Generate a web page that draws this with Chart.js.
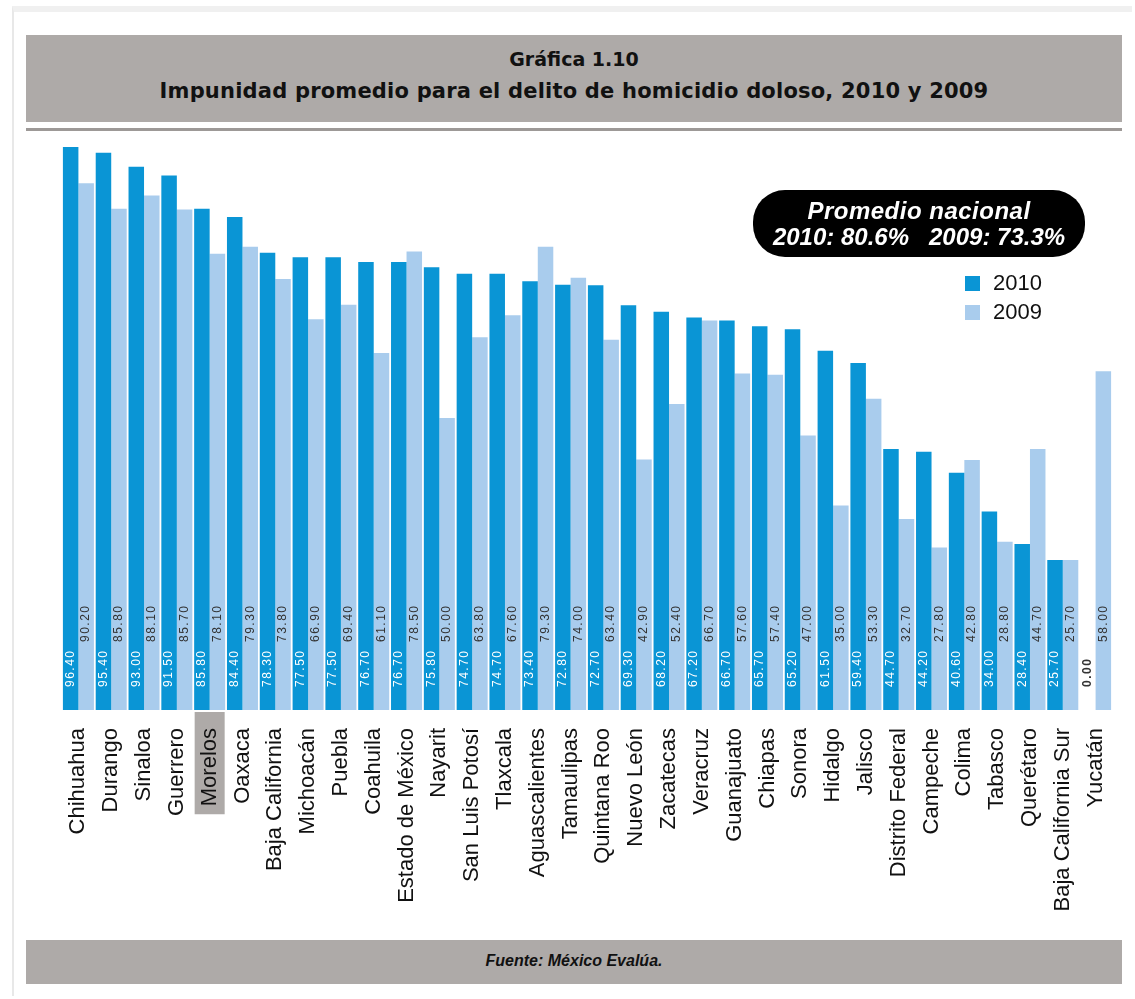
<!DOCTYPE html>
<html>
<head>
<meta charset="utf-8">
<script src="https://cdn.jsdelivr.net/npm/chart.js@4"></script>
<style>
  body { margin: 0; background: #fff; font-family: "Liberation Sans", Arial, sans-serif; }
  #page { position: relative; width: 1135px; height: 999px; overflow: hidden; }
  #frame { position: absolute; left: 12px; top: 6px; width: 1118px; height: 984px; border-left: 2px solid #e8e8e8; border-top: 6px solid #f0f0f0; }
  .band { position: absolute; left: 26px; width: 1096px; background: #aeaaa8; text-align: center; color: #111; }
  #titleBand { top: 35px; height: 87px; font-family: "DejaVu Sans", sans-serif; }
  #titleBand .l1 { position: absolute; left: 0; right: 0; top: 13px; font-size: 19px; font-weight: bold; }
  #titleBand .l2 { position: absolute; left: 0; right: 0; top: 44px; font-size: 21px; font-weight: bold; letter-spacing: 0.2px; }
  #rule { position: absolute; left: 26px; width: 1096px; top: 128px; height: 3px; background: #9d9997; }
  #footer { top: 940px; height: 44px; }
  #footer span { position: absolute; left: 0; right: 0; top: 12px; font-size: 16px; font-weight: bold; font-style: italic; }
  #chart { position: absolute; left: 0; top: 0; }
  #pill { position: absolute; left: 753px; top: 190px; width: 332px; height: 67px; background: #000; border-radius: 32px; color: #fff; font-weight: bold; font-style: italic; text-align: center; font-size: 24px; line-height: 26px; }
  #pill .p1 { position: absolute; left: 0; right: 0; top: 8px; letter-spacing: 0.5px; }
  #pill .p2 { position: absolute; left: 0; right: 0; top: 34px; white-space: pre; }
</style>
</head>
<body>
<div id="page">
  <div id="frame"></div>
  <div class="band" id="titleBand">
    <div class="l1">Gráfica 1.10</div>
    <div class="l2">Impunidad promedio para el delito de homicidio doloso, 2010 y 2009</div>
  </div>
  <div id="rule"></div>
  <canvas id="chart" width="1135" height="999"></canvas>
  <div id="pill">
    <div class="p1">Promedio nacional</div>
    <div class="p2">2010: 80.6%   2009: 73.3%</div>
  </div>
  <div class="band" id="footer"><span>Fuente: México Evalúa.</span></div>
</div>
<script>
let categories = ['Chihuahua', 'Durango', 'Sinaloa', 'Guerrero', 'Morelos', 'Oaxaca', 'Baja California',
  'Michoacán', 'Puebla', 'Coahuila', 'Estado de México', 'Nayarit', 'San Luis Potosí', 'Tlaxcala',
  'Aguascalientes', 'Tamaulipas', 'Quintana Roo', 'Nuevo León', 'Zacatecas', 'Veracruz', 'Guanajuato',
  'Chiapas', 'Sonora', 'Hidalgo', 'Jalisco', 'Distrito Federal', 'Campeche', 'Colima', 'Tabasco',
  'Querétaro', 'Baja California Sur', 'Yucatán'];
let values2010 = [96.40, 95.40, 93.00, 91.50, 85.80, 84.40, 78.30, 77.50, 77.50, 76.70, 76.70, 75.80,
  74.70, 74.70, 73.40, 72.80, 72.70, 69.30, 68.20, 67.20, 66.70, 65.70, 65.20, 61.50, 59.40, 44.70,
  44.20, 40.60, 34.00, 28.40, 25.70, 0.00];
let values2009 = [90.20, 85.80, 88.10, 85.70, 78.10, 79.30, 73.80, 66.90, 69.40, 61.10, 78.50, 50.00,
  63.80, 67.60, 79.30, 74.00, 63.40, 42.90, 52.40, 66.70, 57.60, 57.40, 47.00, 35.00, 53.30, 32.70,
  27.80, 42.80, 28.80, 44.70, 25.70, 58.00];
let seriesNames = ['2010', '2009'];
let colors = ['#0a95d5', '#a9cced'];
let highlighted = 'Morelos';

let tickFont = '22px "Liberation Sans", Arial, sans-serif';

// grey box behind the highlighted state name
let highlightBox = {
  id: 'highlightBox',
  beforeDraw(chart) {
    let x = chart.scales.x;
    let i = categories.indexOf(highlighted);
    if (i < 0) return;
    let ctx = chart.ctx;
    ctx.save();
    ctx.font = tickFont;
    let w = ctx.measureText(highlighted).width;
    let cx = x.getPixelForValue(i);
    ctx.fillStyle = '#aeaaa8';
    ctx.fillRect(cx - 15, chart.chartArea.bottom + 2, 30, w + 24);
    ctx.restore();
  }
};

// vertical value labels inside the bars
let valueLabels = {
  id: 'valueLabels',
  afterDatasetsDraw(chart) {
    let ctx = chart.ctx;
    let base = chart.chartArea.bottom;
    ctx.save();
    ctx.textAlign = 'left';
    ctx.textBaseline = 'middle';
    ctx.letterSpacing = '1.5px';
    chart.data.datasets.forEach((ds, d) => {
      chart.getDatasetMeta(d).data.forEach((bar, i) => {
        let v = ds.data[i];
        let y = d === 0 ? base - 23 : base - 68;
        ctx.save();
        ctx.translate(bar.x, y);
        ctx.rotate(-Math.PI / 2);
        if (d === 0 && v > 0) {
          ctx.fillStyle = '#ffffff';
          ctx.font = '12px "Liberation Sans", Arial, sans-serif';
        } else {
          ctx.fillStyle = '#333333';
          ctx.font = (v === 0 ? 'bold ' : '') + '12px "Liberation Sans", Arial, sans-serif';
        }
        ctx.fillText(v.toFixed(2), 0, 0);
        ctx.restore();
      });
    });
    ctx.restore();
  }
};

// legend at the upper right
let sideLegend = {
  id: 'sideLegend',
  afterDraw(chart) {
    let ctx = chart.ctx;
    ctx.save();
    ctx.font = '22px "Liberation Sans", Arial, sans-serif';
    ctx.textBaseline = 'middle';
    chart.data.datasets.forEach((ds, d) => {
      let y = 276 + d * 29;
      ctx.fillStyle = ds.backgroundColor;
      ctx.fillRect(965, y, 15, 15);
      ctx.fillStyle = '#111';
      ctx.fillText(ds.label, 993, y + 8);
    });
    ctx.restore();
  }
};

let ctx = document.getElementById('chart').getContext('2d');
let chart = new Chart(ctx, {
  type: 'bar',
  data: {
    labels: categories,
    datasets: [
      { label: seriesNames[0], data: values2010, backgroundColor: colors[0] },
      { label: seriesNames[1], data: values2009, backgroundColor: colors[1] }
    ]
  },
  options: {
    responsive: false,
    animation: false,
    devicePixelRatio: 1,
    layout: { padding: { left: 62, right: 23, top: 137, bottom: 60 } },
    datasets: { bar: { categoryPercentage: 0.945, barPercentage: 1 } },
    scales: {
      x: {
        grid: { display: false },
        border: { display: false },
        afterFit(scale) { scale.height = 229; },
        ticks: {
          color: '#111',
          font: { family: '"Liberation Sans", Arial, sans-serif', size: 22 },
          minRotation: 90,
          maxRotation: 90,
          autoSkip: false,
          padding: 10
        }
      },
      y: { display: false, min: 0, max: 98.1 }
    },
    plugins: {
      legend: { display: false },
      tooltip: { enabled: false }
    }
  },
  plugins: [highlightBox, valueLabels, sideLegend]
});
</script>
</body>
</html>
